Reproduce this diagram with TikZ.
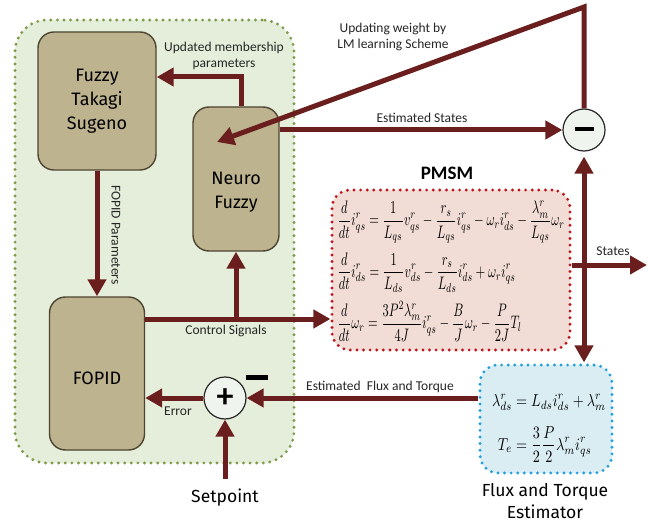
\documentclass[tikz,border=0pt]{standalone}
\usepackage{fontspec}
\usepackage{amsmath}
\usepackage{graphicx}
\setmainfont{Carlito}
\newfontfamily\blockfont{Fira Sans}
\usetikzlibrary{arrows.meta}

\definecolor{flow}{HTML}{6B1E1E}
\definecolor{ctrlfill}{HTML}{E4EEDA}
\definecolor{ctrldots}{HTML}{7D9B48}
\definecolor{khaki}{HTML}{BDB38F}
\definecolor{khakiedge}{HTML}{4D4532}
\definecolor{motorfill}{HTML}{F2DDD6}
\definecolor{motordots}{HTML}{C0141C}
\definecolor{estfill}{HTML}{DAEDF3}
\definecolor{estdots}{HTML}{22A0DC}
\definecolor{junction}{HTML}{F0F4EE}

\tikzset{
  dotframe/.style={draw=#1, line width=3.2pt, line cap=round,
    dash pattern=on 0pt off 6.6pt},
  blockbox/.style={draw=khakiedge, fill=khaki, line width=1.4pt,
    rounded corners=16pt, inner sep=0pt},
  blocktext/.style={align=center, inner sep=0pt,
    font=\blockfont\fontsize{18}{24}\selectfont},
  junc/.style={circle, draw=black!85, fill=junction, line width=1.2pt,
    minimum size=42pt, inner sep=0pt},
  flowarrow/.style={draw=flow, line width=5pt,
    -{Triangle[length=17pt,width=18pt]}},
  lbl/.style={font=\fontsize{13.5}{16}\selectfont, align=center, text=black!85},
  bigtitle/.style={font=\blockfont\fontsize{17.5}{22}\selectfont, align=center},
}

\begin{document}
\begin{tikzpicture}[x=1pt,y=-1pt]
\useasboundingbox[fill=white] (0,0) rectangle (648,524);

% controller region
\node[dotframe=ctrldots, fill=ctrlfill, rounded corners=32pt,
  minimum width=279pt, minimum height=443pt] (ctrl) at (154.5,241.5) {};

% controller blocks
\node[blockbox, minimum width=118pt, minimum height=138pt] (fuzzy) at (97,101) {};
\node[blocktext] (fuzzytext) at (97,101) {Fuzzy\\Takagi\\Sugeno};
\node[blockbox, minimum width=86pt, minimum height=144pt] (neuro) at (236,179) {};
\node[blocktext] (neurotext) at (236,192) {Neuro\\Fuzzy};
\node[blockbox, minimum width=95pt, minimum height=153pt] (fopid) at (97,373.5) {};
\node[blocktext] (fopidtext) at (97,378) {FOPID};

% machine model
\node[dotframe=motordots, fill=motorfill, rounded corners=18pt,
  minimum width=238pt, minimum height=160pt] (pmsm) at (451,270) {};
\node[font=\bfseries\fontsize{19}{21}\selectfont] (pmsmtitle) at (447,173) {PMSM};
\node[inner sep=0pt] (pmsmeq) at (451,271) {\resizebox*{227pt}{140pt}{$\displaystyle
  \begin{aligned}
  &\frac{d}{dt}i^{r}_{qs}=\frac{1}{L_{qs}}v^{r}_{qs}-\frac{r_s}{L_{qs}}i^{r}_{qs}-\omega_r i^{r}_{ds}-\frac{\lambda^{r}_{m}}{L_{qs}}\omega_r\\[1pt]
  &\frac{d}{dt}i^{r}_{ds}=\frac{1}{L_{ds}}v^{r}_{ds}-\frac{r_s}{L_{ds}}i^{r}_{ds}+\omega_r i^{r}_{qs}\\[1pt]
  &\frac{d}{dt}\omega_r=\frac{3P^2\lambda^{r}_{m}}{4J}i^{r}_{qs}-\frac{B}{J}\omega_r-\frac{P}{2J}T_l
  \end{aligned}$}};

% flux and torque estimator
\node[dotframe=estdots, fill=estfill, rounded corners=18pt,
  minimum width=132pt, minimum height=108pt] (flux) at (546,419) {};
\node[inner sep=0pt] (fluxeq) at (549,427) {\resizebox*{114pt}{70pt}{$\displaystyle
  \begin{aligned}
  \lambda^{r}_{ds}&=L_{ds}i^{r}_{ds}+\lambda^{r}_{m}\\[4pt]
  T_e&=\frac{3}{2}\frac{P}{2}\lambda^{r}_{m}i^{r}_{qs}
  \end{aligned}$}};
\node[bigtitle] (fluxtitle) at (545,501) {Flux and Torque\\Estimator};

% summing junctions
\node[junc] (sum) at (225,398) {\fontsize{34}{34}\bfseries\selectfont +};
\node[junc] (diff) at (584,130) {\rule[2pt]{19pt}{4.5pt}};
\node[inner sep=0pt] (neg) at (257,377) {\rule{22pt}{5pt}};

% setpoint
\node[bigtitle] (setpt) at (225,498) {Setpoint};
\coordinate (setin) at (225,479);

% connectors
\draw[flowarrow] ([xshift=5pt]neuro.north) |- (fuzzy.east |- 0,77);
\draw[flowarrow] (fuzzy.south) -- (fopid.north);
\draw[flowarrow] (fopid.east |- 0,319) -- (pmsm.west |- 0,319);
\coordinate (branch) at (236,319);
\draw[flowarrow] (branch) -- (neuro.south);
\draw[flowarrow] (sum.west) -- (fopid.east |- sum.west);
\draw[flowarrow] (setin) -- (sum.south);
\draw[flowarrow] (flux.west |- sum.east) -- (sum.east);
\draw[flowarrow] (neuro.east |- diff.west) -- (diff.west);
\coordinate (corner) at (584,7);
\coordinate (nfin) at (217,142);
\draw[flowarrow] (diff.north) -- (corner) -- (nfin);
\draw[flowarrow, {Triangle[length=17pt,width=18pt]}-{Triangle[length=17pt,width=18pt]},
  shorten <=5pt, shorten >=1pt] (diff.south) -- (diff.south |- flux.north);
\coordinate (stateout) at (647,265);
\draw[flowarrow] (pmsm.east |- stateout) -- (stateout);

% connector labels
\node[lbl] (lblmem) at (224,56) {Updated membership\\parameters};
\node[lbl, rotate=-90] (lblpar) at (116,235) {FOPID Parameters};
\node[lbl] (lblctl) at (226,331) {Control Signals};
\node[lbl] (lblerr) at (178,411) {Error};
\node[lbl] (lblflux) at (380,387) {Estimated\ \ Flux and Torque};
\node[lbl] (lblest) at (422,118) {Estimated States};
\node[lbl] (lbllm) at (393,37) {Updating weight by\\LM learning Scheme};
\node[lbl] (lblst) at (613,251) {States};
\end{tikzpicture}
\end{document}
